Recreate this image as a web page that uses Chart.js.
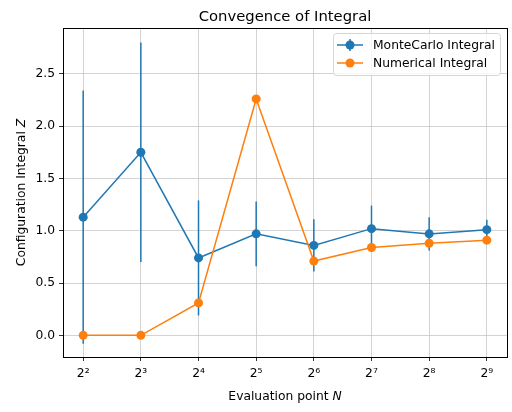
<!DOCTYPE html>
<html>
<head>
<meta charset="utf-8">
<script src="https://cdn.jsdelivr.net/npm/chart.js@4/dist/chart.umd.min.js"></script>
<style>
  html, body { margin: 0; padding: 0; background: #fff; }
  #wrap { position: relative; width: 512px; height: 412px; }
</style>
</head>
<body>
<div id="wrap"><canvas id="myChart" width="512" height="412"></canvas></div>
<script>
// evaluation points N and their tick labels
var evalPoints = [4, 8, 16, 32, 64, 128, 256, 512];
var tickLabels = ['2\u00B2', '2\u00B3', '2\u2074', '2\u2075', '2\u2076', '2\u2077', '2\u2078', '2\u2079'];

// values
var monteCarlo = [1.13, 1.75, 0.74, 0.97, 0.86, 1.02, 0.97, 1.01];
var monteCarloErr = [1.21, 1.05, 0.55, 0.31, 0.25, 0.22, 0.16, 0.095];
var numerical = [0.0, 0.0, 0.31, 2.26, 0.71, 0.84, 0.88, 0.91];
var yTicks = [0, 0.5, 1.0, 1.5, 2.0, 2.5];

var blue = '#1f77b4';
var orange = '#ff7f0e';
var font = "'DejaVu Sans', sans-serif";
var fs = 12.3;

function points(ys) {
    var out = [];
    for (var i = 0; i < evalPoints.length; i++) {
        out.push({ x: evalPoints[i], y: ys[i] });
    }
    return out;
}

// vertical error bars, axes frame, labels and legend
var extras = {
    id: 'extras',
    beforeDatasetsDraw: function (chart) {
        var ctx = chart.ctx;
        var xs = chart.scales.x, ys = chart.scales.y;
        ctx.save();
        ctx.strokeStyle = blue;
        ctx.lineWidth = 1.5;
        for (var i = 0; i < evalPoints.length; i++) {
            var px = xs.getPixelForValue(evalPoints[i]);
            ctx.beginPath();
            ctx.moveTo(px, ys.getPixelForValue(monteCarlo[i] - monteCarloErr[i]));
            ctx.lineTo(px, ys.getPixelForValue(monteCarlo[i] + monteCarloErr[i]));
            ctx.stroke();
        }
        ctx.restore();
    },
    afterDraw: function (chart) {
        var ctx = chart.ctx;
        var a = chart.chartArea;
        ctx.save();

        // frame
        ctx.strokeStyle = '#000';
        ctx.lineWidth = 1;
        ctx.strokeRect(Math.round(a.left) + 0.5, Math.round(a.top) + 0.5,
            Math.round(a.right - a.left), Math.round(a.bottom - a.top));

        var cx = (a.left + a.right) / 2;

        // title
        ctx.fillStyle = '#000';
        ctx.textAlign = 'center';
        ctx.textBaseline = 'alphabetic';
        ctx.font = "14.8px " + font;
        ctx.fillText('Convegence of Integral', cx, 21);

        // x label with italic N
        var t1 = 'Evaluation point ';
        ctx.font = "italic " + fs + "px " + font;
        var w2 = ctx.measureText('N').width;
        ctx.font = fs + "px " + font;
        var w1 = ctx.measureText(t1).width;
        var sx = cx - (w1 + w2) / 2;
        ctx.textAlign = 'left';
        ctx.fillText(t1, sx, 400);
        ctx.font = "italic " + fs + "px " + font;
        ctx.fillText('N', sx + w1, 400);

        // y label with italic Z
        ctx.save();
        ctx.translate(25, (a.top + a.bottom) / 2);
        ctx.rotate(-Math.PI / 2);
        ctx.font = fs + "px " + font;
        var t3 = 'Configuration Integral ';
        var w3 = ctx.measureText(t3).width;
        ctx.font = "italic " + fs + "px " + font;
        var w4 = ctx.measureText('Z').width;
        var sy = -(w3 + w4) / 2;
        ctx.font = fs + "px " + font;
        ctx.fillText(t3, sy, 0);
        ctx.font = "italic " + fs + "px " + font;
        ctx.fillText('Z', sy + w3, 0);
        ctx.restore();

        // legend
        var lx = 333, ly = 33, lw = 167, lh = 42;
        ctx.beginPath();
        ctx.roundRect(lx + 0.5, ly + 0.5, lw, lh, 3);
        ctx.fillStyle = 'rgba(255,255,255,0.8)';
        ctx.fill();
        ctx.strokeStyle = '#d6d6d6';
        ctx.lineWidth = 1;
        ctx.stroke();

        var rows = [
            { label: chart.data.datasets[0].label, color: blue, err: true, y: 45 },
            { label: chart.data.datasets[1].label, color: orange, err: false, y: 63 }
        ];
        ctx.font = fs + "px " + font;
        ctx.textBaseline = 'middle';
        for (var i = 0; i < rows.length; i++) {
            var r = rows[i];
            ctx.strokeStyle = r.color;
            ctx.fillStyle = r.color;
            ctx.lineWidth = 1.5;
            ctx.beginPath();
            ctx.moveTo(337, r.y);
            ctx.lineTo(363, r.y);
            ctx.stroke();
            if (r.err) {
                ctx.beginPath();
                ctx.moveTo(350, r.y - 6);
                ctx.lineTo(350, r.y + 6);
                ctx.stroke();
            }
            ctx.beginPath();
            ctx.arc(350, r.y, 4.5, 0, Math.PI * 2);
            ctx.fill();
            ctx.fillStyle = '#000';
            ctx.fillText(r.label, 373, r.y + 1);
        }
        ctx.restore();
    }
};

var ctx = document.getElementById('myChart').getContext('2d');

var chart = new Chart(ctx, {
    type: 'line',
    data: {
        datasets: [{
            label: 'MonteCarlo Integral',
            data: points(monteCarlo),
            borderColor: blue,
            backgroundColor: blue,
            pointBackgroundColor: blue,
            borderWidth: 1.5,
            pointRadius: 4.5,
            pointBorderWidth: 0,
            order: 1
        }, {
            label: 'Numerical Integral',
            data: points(numerical),
            borderColor: orange,
            backgroundColor: orange,
            pointBackgroundColor: orange,
            borderWidth: 1.5,
            pointRadius: 4.5,
            pointBorderWidth: 0,
            order: 0
        }]
    },
    options: {
        responsive: false,
        animation: false,
        devicePixelRatio: 1,
        layout: { padding: { left: 0, top: 28, right: 5, bottom: 0 } },
        plugins: {
            legend: { display: false },
            title: { display: false },
            tooltip: { enabled: false }
        },
        scales: {
            x: {
                type: 'logarithmic',
                min: Math.pow(2, 1.65),
                max: Math.pow(2, 9.35),
                afterBuildTicks: function (scale) {
                    scale.ticks = evalPoints.map(function (v) { return { value: v }; });
                },
                afterFit: function (scale) { scale.height = 55; },
                ticks: {
                    autoSkip: false,
                    maxRotation: 0,
                    padding: 5,
                    color: '#000',
                    font: { family: font, size: fs },
                    callback: function (value, index) { return tickLabels[index]; }
                },
                grid: {
                    color: '#c8c8c8',
                    lineWidth: 0.8,
                    tickColor: '#000',
                    tickLength: 4
                },
                border: { display: true, color: '#000', width: 1 }
            },
            y: {
                type: 'linear',
                min: -0.207,
                max: 2.938,
                afterBuildTicks: function (scale) {
                    scale.ticks = yTicks.map(function (v) { return { value: v }; });
                },
                afterFit: function (scale) { scale.width = 63; },
                ticks: {
                    autoSkip: false,
                    padding: 4,
                    color: '#000',
                    font: { family: font, size: fs },
                    callback: function (value) { return value.toFixed(1); }
                },
                grid: {
                    color: '#c8c8c8',
                    lineWidth: 0.8,
                    tickColor: '#000',
                    tickLength: 4
                },
                border: { display: true, color: '#000', width: 1 }
            }
        }
    },
    plugins: [extras]
});
</script>
</body>
</html>
